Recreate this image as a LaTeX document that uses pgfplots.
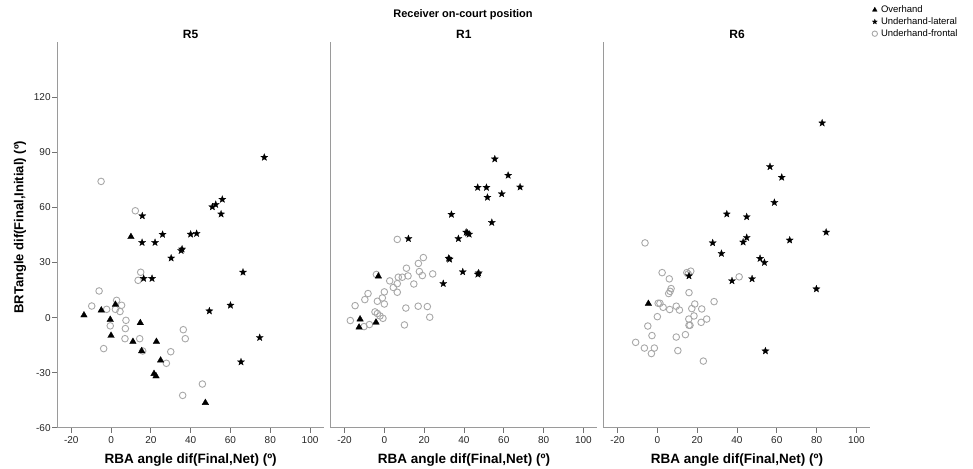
\documentclass[border=0pt]{standalone}
\usepackage{fontspec}
\setmainfont{Liberation Sans}
\usepackage{pgfplots}
\pgfplotsset{compat=1.18}

\definecolor{axgray}{HTML}{9A9A9A}
\definecolor{circgray}{HTML}{A8A8A8}

% filled five-pointed star
\pgfdeclareplotmark{fstar}{%
  \pgfpathmoveto{\pgfpointpolar{90}{\pgfplotmarksize}}%
  \pgfpathlineto{\pgfpointpolar{126}{0.42\pgfplotmarksize}}%
  \pgfpathlineto{\pgfpointpolar{162}{\pgfplotmarksize}}%
  \pgfpathlineto{\pgfpointpolar{198}{0.42\pgfplotmarksize}}%
  \pgfpathlineto{\pgfpointpolar{234}{\pgfplotmarksize}}%
  \pgfpathlineto{\pgfpointpolar{270}{0.42\pgfplotmarksize}}%
  \pgfpathlineto{\pgfpointpolar{306}{\pgfplotmarksize}}%
  \pgfpathlineto{\pgfpointpolar{342}{0.42\pgfplotmarksize}}%
  \pgfpathlineto{\pgfpointpolar{18}{\pgfplotmarksize}}%
  \pgfpathlineto{\pgfpointpolar{54}{0.42\pgfplotmarksize}}%
  \pgfpathclose
  \pgfusepathqfillstroke}

\pgfplotsset{
  panel/.style={
    at={(#1pt,40.3pt)}, anchor=south west, scale only axis,
    width=266.7pt, height=385.4pt,
    xmin=-27, xmax=107, ymin=-60, ymax=150,
    axis lines*=left,
    axis line style={draw=axgray, line width=1.3pt},
    xtick={-20,0,...,100}, ytick={-60,-30,...,120},
    tick align=outside, major tick length=5pt,
    tick style={draw=black!55, line width=0.9pt},
    ticklabel style={font=\fontsize{10}{10}\selectfont, text=black!85},
    yticklabel style={inner sep=1.5pt},
    /pgf/number format/assume math mode=true,
    xlabel={RBA angle dif(Final,Net) (º)},
    xlabel style={at={(axis description cs:0.5,-0.084)}, anchor=center,
      font=\bfseries\fontsize{13.5}{14}\selectfont},
  },
  over/.style={only marks, color=black, mark=triangle*, mark size=3.8pt,
    mark options={fill=black, draw=black, line width=0.3pt}},
  lat/.style={only marks, color=black, mark=fstar, mark size=3.8pt,
    mark options={fill=black, draw=black, line width=0.2pt}},
  fro/.style={only marks, color=circgray, mark=o, mark size=3.3pt,
    mark options={draw=circgray, line width=0.9pt}},
}

\begin{document}
\begin{tikzpicture}
\useasboundingbox (0,0) rectangle (973pt,468pt);

\node[font=\bfseries\fontsize{11}{11}\selectfont] at (463pt,453pt) {Receiver on-court position};
\begin{scope}[every node/.style={font=\bfseries\fontsize{12}{12}\selectfont}]
\node at (190.6pt,434pt) {R5};
\node at (463.9pt,434pt) {R1};
\node at (737pt,434pt) {R6};
\end{scope}

% ---- R5
\begin{axis}[panel=57.3,
    ylabel={BRTangle dif(Final,Initial) (º)},
    ylabel style={at={(axis description cs:-0.14,0.52)}, anchor=center,
      font=\bfseries\fontsize{13}{13}\selectfont}]
\addplot+[fro] coordinates {
  (-5,74.2) (12.2,58.2) (14.9,24.7) (13.6,20.3) (-6,14.5) (-9.7,6.3)
  (-2.2,4.5) (2.8,9.4) (5.3,6.7) (4.5,3.3) (2.2,4.5) (-0.4,-4.5)
  (7.5,-1.5) (7.2,-6) (7,-11.5) (-3.7,-16.9) (14.4,-11.5) (15.9,-18.2)
  (30,-18.6) (27.8,-24.9) (36.3,-6.6) (37.3,-11.5) (45.9,-36.2) (36,-42.4)
};
\addplot+[lat] coordinates {
  (15.7,55.4) (77,87.3) (55.9,64.4) (52.6,61.6) (50.9,60.3) (55.3,56.4)
  (25.9,45.3) (40,45.4) (43,45.8) (15.6,40.9) (22.1,40.9) (30.2,32.4)
  (35.7,37.3) (35.2,36.5) (66.3,24.7) (16.4,21.3) (20.6,21.3) (49.4,3.6)
  (60,6.7) (74.7,-10.9) (65.3,-24.2)
};
\addplot+[over] coordinates {
  (10,44) (-13.6,1.3) (-4.9,4.0) (2.2,7.1) (-0.4,-1.1) (0,-9.8)
  (14.7,-2.9) (11,-13.1) (22.8,-13.1) (15.4,-18.2) (24.9,-23.3)
  (21.6,-30.6) (22.6,-31.9) (47.4,-46.4)
};
\end{axis}

% ---- R1
\begin{axis}[panel=330.6, ytick=\empty]
\addplot+[fro] coordinates {
  (6.5,42.6) (-4,23.5) (19.6,32.7) (17.1,29.5) (11.1,26.9) (17.6,25.1)
  (19.1,22.9) (24.3,23.8) (11.9,22.7) (9,22) (7,22) (2.7,20) (6.5,18.5)
  (14.8,18.3) (4.5,16.4) (6.5,13.8) (0,14) (-8.2,13.1) (-9.8,9.8)
  (-1,10.7) (-3.5,8.9) (0,7.4) (-14.7,6.5) (10.8,5.2) (17,6.2) (21.6,6)
  (22.8,0.2) (-4.7,3.1) (-3.5,2.2) (-2.2,0.9) (-0.7,-0.4) (-17.1,-1.6)
  (-10.2,-4.9) (-7.5,-3.8) (10.1,-4)
};
\addplot+[lat] coordinates {
  (55.5,86.4) (62.2,77.5) (46.9,70.9) (51.3,70.9) (68.2,71.1) (59,67.4)
  (51.8,65.5) (33.7,56.2) (54,51.8) (41.1,46.5) (42.6,45.4) (41.8,46)
  (37.2,43) (12.1,43) (32.3,32.3) (32.8,31.8) (39.4,24.9) (47.4,24.3)
  (47,23.6) (29.6,18.5)
};
\addplot+[over] coordinates {
  (-3,22.5) (-12.2,-0.9) (-12.7,-5.3) (-4.2,-2.6)
};
\end{axis}

% ---- R6
\begin{axis}[panel=603.6, ytick=\empty,
    legend style={at={(axis description cs:1.006,1.098)}, anchor=north west,
      draw=none, fill=none, font=\fontsize{9.5}{9.5}\selectfont,
      inner sep=0pt, row sep=1.5pt, nodes={inner sep=1pt},
      /tikz/every odd column/.style={column sep=2.5pt}},
    legend cell align=left,
    legend image code/.code={\draw[mark size=2.7pt] plot coordinates {(3pt,0pt)};}]
\addlegendimage{over}
\addlegendentry{Overhand}
\addlegendimage{lat}
\addlegendentry{Underhand-lateral}
\addlegendimage{fro}
\addlegendentry{Underhand-frontal}
\addplot+[fro, forget plot] coordinates {
  (-6.2,40.7) (41.1,22.2) (14.8,24.5) (16.8,25.3) (15.5,23.8) (2.4,24.5)
  (6,21.1) (6.9,15.8) (6.4,14.3) (5.7,13.1) (15.9,13.6) (0.4,7.8)
  (1.3,7.8) (2.9,5.6) (6.2,4.4) (9.5,6.2) (11.1,4.1) (18.8,7.4)
  (17.3,4.9) (22.3,4.7) (28.5,8.7) (18.4,0.9) (15.8,-0.8) (15.9,-4.2)
  (16.4,-4.2) (22,-2.6) (24.8,-0.8) (0,0.5) (-4.8,-4.6) (-2.7,-9.8)
  (9.5,-10.6) (14.1,-9.3) (-10.9,-13.5) (-6.5,-16.6) (-1.5,-16.6)
  (-3,-19.6) (10.3,-18) (23.1,-23.7)
};
\addplot+[lat, forget plot] coordinates {
  (82.8,106) (56.6,82.2) (62.5,76.4) (58.8,62.7) (34.9,56.4) (44.9,54.9)
  (44.9,43.6) (43.1,41.1) (66.5,42.2) (27.8,40.7) (32.2,34.9) (51.6,32.2)
  (53.8,30) (37.5,20) (47.6,21.1) (79.9,15.6) (54.3,-18.2) (15.9,22.7)
  (84.8,46.5)
};
\addplot+[over, forget plot] coordinates {
  (-4.5,7.6)
};
\end{axis}
\end{tikzpicture}
\end{document}
